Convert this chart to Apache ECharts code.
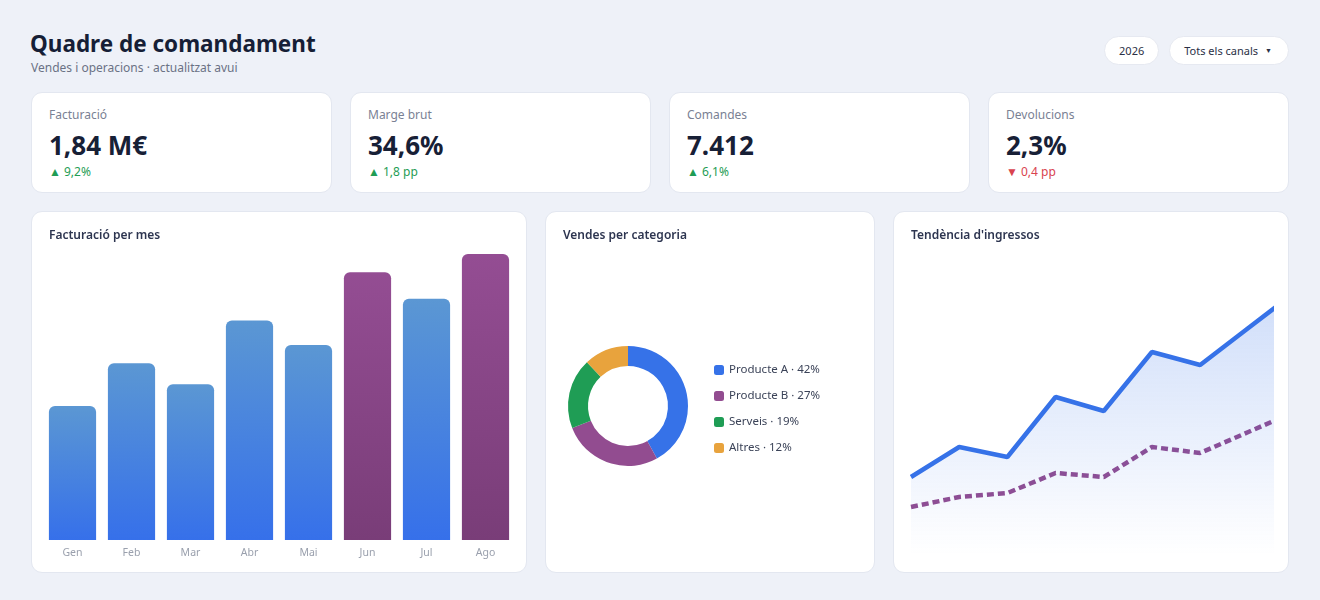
<!DOCTYPE html>
<html lang="ca">
<head>
<meta charset="utf-8">
<title>Quadre de comandament</title>
<script src="https://cdn.jsdelivr.net/npm/echarts@6/dist/echarts.min.js"></script>
<style>
  * { box-sizing: border-box; }
  html, body { margin: 0; padding: 0; }
  body {
    width: 1320px; height: 600px; overflow: hidden;
    background: #eef1f8;
    font-family: "Noto Sans", "Open Sans", sans-serif;
    color: #172036;
  }
  .page { position: relative; padding: 30px 31px 0 31px; }
  .head h1 { margin: 0 0 0 -1px; font-size: 22.5px; line-height: 28px; font-weight: 700; color: #161e36; }
  .head .sub { font-size: 12px; line-height: 18px; color: #6b7285; margin-top: 1px; }
  .filters { position: absolute; top: 36px; right: 31px; display: flex; gap: 10px; }
  .pill {
    height: 29px; line-height: 27px; padding: 0 14px;
    background: #fff; border: 1px solid #e6e9f1; border-radius: 15px;
    font-size: 11px; color: #2a3045;
  }
  .pill.sel { padding-right: 16px; }
  .pill .caret { font-size: 7px; margin-left: 7px; position: relative; top: -2px; }
  .kpis { display: flex; gap: 18px; margin-top: 15px; }
  .kpi {
    flex: 1; height: 101px; padding: 14px 17px 0 17px;
    background: #fff; border: 1px solid #e3e7f0; border-radius: 11px;
  }
  .kpi .lbl { font-size: 12px; line-height: 16px; color: #7a8194; }
  .kpi .val { font-size: 26px; line-height: 32px; font-weight: 700; color: #172036; margin-top: 6px; }
  .kpi .dlt { font-size: 12px; line-height: 16px; margin-top: 3px; }
  .kpi .up { color: #1f9d55; }
  .kpi .down { color: #d9434f; }
  .charts { display: flex; gap: 18px; margin-top: 18px; height: 362px; }
  .card {
    position: relative; height: 362px; flex: none;
    background: #fff; border: 1px solid #e3e7f0; border-radius: 11px;
  }
  .card .ttl {
    position: absolute; left: 17px; top: 14px; z-index: 2;
    font-size: 12px; line-height: 18px; font-weight: 600; color: #2d3550;
  }
  .card .plot { position: absolute; left: -1px; top: -1px; right: -1px; bottom: -1px; }
  #c1 { width: 496px; } #c2 { width: 330px; } #c3 { width: 396px; }
</style>
</head>
<body>
<div class="page">
  <div class="head">
    <h1>Quadre de comandament</h1>
    <div class="sub">Vendes i operacions · actualitzat avui</div>
  </div>
  <div class="filters">
    <div class="pill">2026</div>
    <div class="pill sel">Tots els canals<span class="caret">▼</span></div>
  </div>
  <div class="kpis" id="kpis"></div>
  <div class="charts">
    <div class="card" id="c1"><div class="ttl">Facturació per mes</div><div class="plot" id="barChart"></div></div>
    <div class="card" id="c2"><div class="ttl">Vendes per categoria</div><div class="plot" id="pieChart"></div></div>
    <div class="card" id="c3"><div class="ttl">Tendència d'ingressos</div><div class="plot" id="lineChart"></div></div>
  </div>
</div>

<script>
// targetes KPI
const kpiLabels = ['Facturació', 'Marge brut', 'Comandes', 'Devolucions']
const kpiValues = ['1,84 M€', '34,6%', '7.412', '2,3%']
const kpiDeltas = ['9,2%', '1,8 pp', '6,1%', '0,4 pp']
const kpiUp = [true, true, true, false]

// facturació mensual (milers d'€)
const months = ['Gen', 'Feb', 'Mar', 'Abr', 'Mai', 'Jun', 'Jul', 'Ago']
const revenue = [147, 194, 171, 241, 214, 294, 265, 314]
const highlightMonths = ['Jun', 'Ago']

// vendes per categoria (%)
const categories = ['Producte A', 'Producte B', 'Serveis', 'Altres']
const shares = [42, 27, 19, 12]
const categoryColors = ['#3672e8', '#924c90', '#1f9d55', '#e8a33d']

// tendència d'ingressos
const trendIncome = [78, 108, 98, 158, 144, 203, 190, 227, 264]
const trendTarget = [48, 58, 62, 82, 78, 108, 102, 123, 144]

const kpiBox = document.getElementById('kpis')
kpiLabels.forEach((label, i) => {
    const el = document.createElement('div')
    el.className = 'kpi'
    el.innerHTML = '<div class="lbl">' + label + '</div>' +
        '<div class="val">' + kpiValues[i] + '</div>' +
        '<div class="dlt ' + (kpiUp[i] ? 'up' : 'down') + '">' + (kpiUp[i] ? '▲ ' : '▼ ') + kpiDeltas[i] + '</div>'
    kpiBox.appendChild(el)
})

const grad = (top, bottom) => new echarts.graphic.LinearGradient(0, 0, 0, 1, [
    { offset: 0, color: top },
    { offset: 1, color: bottom }
])

// gràfic de barres
const barChart = echarts.init(document.getElementById('barChart'), null, { renderer: 'canvas' })
barChart.setOption({
    animation: false,
    grid: { left: 12, right: 12, top: 43, bottom: 33 },
    xAxis: {
        type: 'category',
        data: months,
        axisLine: { show: false },
        axisTick: { show: false },
        axisLabel: { color: '#9aa0ad', fontSize: 10.5, margin: 8, fontFamily: 'Noto Sans' }
    },
    yAxis: { type: 'value', min: 0, max: 'dataMax', show: false },
    series: [{
        type: 'bar',
        barCategoryGap: '20%',
        data: revenue.map((v, i) => ({
            value: v,
            itemStyle: {
                color: highlightMonths.includes(months[i])
                    ? grad('#944d93', '#793d78')
                    : grad('#5b97d3', '#3670ea'),
                borderRadius: [6, 6, 0, 0]
            }
        }))
    }]
})

// gràfic de dònut
const pieChart = echarts.init(document.getElementById('pieChart'))
pieChart.setOption({
    animation: false,
    color: categoryColors,
    legend: {
        orient: 'vertical',
        left: 164,
        top: 148,
        icon: 'roundRect',
        itemWidth: 10,
        itemHeight: 10,
        itemGap: 14,
        textStyle: { color: '#3b4358', fontSize: 11.5, fontFamily: 'Noto Sans' },
        formatter: name => name + ' · ' + shares[categories.indexOf(name)] + '%'
    },
    series: [{
        type: 'pie',
        center: [83, 195],
        radius: [40, 60],
        startAngle: 90,
        label: { show: false },
        labelLine: { show: false },
        data: categories.map((c, i) => ({ name: c, value: shares[i] }))
    }]
})

// gràfic de línies
const lineChart = echarts.init(document.getElementById('lineChart'))
lineChart.setOption({
    animation: false,
    grid: { left: 18, right: 18, top: 44, bottom: 18 },
    xAxis: { type: 'value', min: 0, max: 7.47, show: false },
    yAxis: { type: 'value', min: 0, max: 300, show: false },
    series: [{
        type: 'line',
        data: trendIncome.map((v, i) => [i, v]),
        showSymbol: false,
        clip: true,
        lineStyle: { color: '#3672e8', width: 4.5 },
        areaStyle: { color: grad('rgba(54,114,232,0.34)', 'rgba(54,114,232,0)') },
        z: 3
    }, {
        type: 'line',
        data: trendTarget.map((v, i) => [i, v]),
        showSymbol: false,
        clip: true,
        lineStyle: { color: '#924c90', width: 4.5, type: [7, 4] },
        z: 2
    }]
})
</script>
</body>
</html>
